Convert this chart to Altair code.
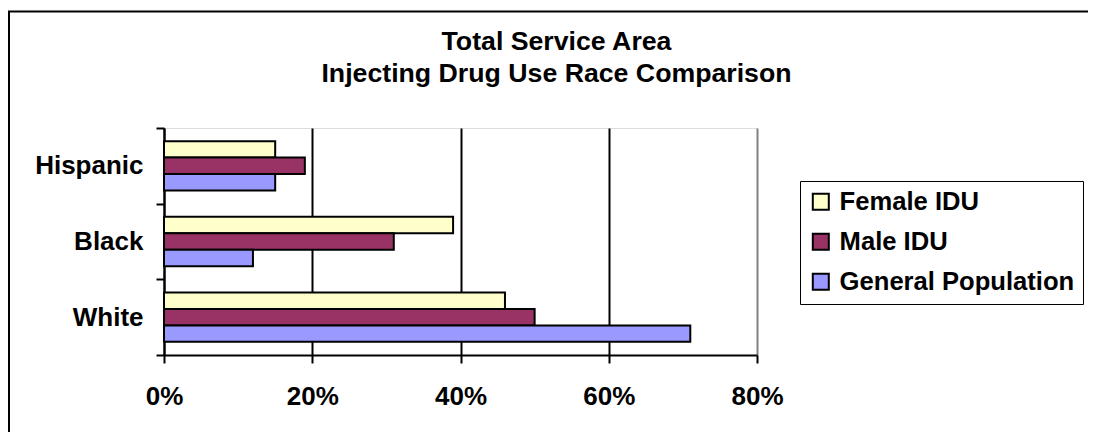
import altair as alt
import pandas as pd

races = ["Hispanic", "Black", "White"]
series = ["Female IDU", "Male IDU", "General Population"]
female_idu = [15, 39, 46]
male_idu = [19, 31, 50]
general_pop = [15, 12, 71]
colors = ["#FFFFCC", "#993366", "#9999FF"]
x_ticks = [0, 20, 40, 60, 80]
title_lines = ["Total Service Area", "Injecting Drug Use Race Comparison"]

rows = []
for i, r in enumerate(races):
    for s, vals in zip(series, [female_idu, male_idu, general_pop]):
        rows.append({"race": r, "series": s, "pct": vals[i] / 100})
df = pd.DataFrame(rows)

FONT = "Liberation Sans"

bars = alt.Chart(df).mark_bar(stroke="black", strokeWidth=2, opacity=1).encode(
    x=alt.X(
        "pct:Q",
        scale=alt.Scale(domain=[0, 0.8], nice=False, zero=True),
        axis=alt.Axis(
            values=[v / 100 for v in x_ticks], format=".0%", title=None,
            grid=True,
            gridColor={"condition": {"test": "datum.value >= 0.79", "value": "#808080"}, "value": "black"},
            gridWidth=2, domainColor="black", domainWidth=2,
            tickColor="black", tickWidth=2, tickSize=8,
            labelFont=FONT, labelFontSize=26, labelFontWeight="bold", labelColor="black",
            labelPadding=20, labelBaseline="top", labelFlush=False, labelOverlap=False,
        ),
    ),
    y=alt.Y(
        "race:N", sort=races,
        scale=alt.Scale(paddingInner=0, paddingOuter=0),
        axis=alt.Axis(
            title=None, tickBand="extent", domainColor="black", domainWidth=2,
            tickColor="black", tickWidth=2, tickSize=8,
            labelFont=FONT, labelFontSize=26, labelFontWeight="bold", labelColor="black",
            labelPadding=13, labelLimit=300,
        ),
    ),
    yOffset=alt.YOffset("series:N", sort=series, scale=alt.Scale(paddingInner=0, paddingOuter=0.8)),
    color=alt.Color(
        "series:N", sort=series,
        scale=alt.Scale(domain=series, range=colors),
        legend=alt.Legend(
            title=None, orient="none", legendX=636, legendY=53, direction="vertical",
            symbolType="square", symbolSize=256, symbolStrokeColor="black", symbolStrokeWidth=2,
            symbolOpacity=1, labelFont=FONT, labelFontSize=25.6, labelFontWeight="bold",
            labelColor="black", labelOffset=6, rowPadding=13, padding=8,
            strokeColor="black", fillColor="white", labelLimit=400,
        ),
    ),
)

border_data = alt.Data(values=[{}])
border_left = alt.Chart(border_data).mark_rule(color="black", strokeWidth=2).encode(
    x=alt.value(-155), y=alt.value(-117), y2=alt.value(320)
)
border_top = alt.Chart(border_data).mark_rule(color="black", strokeWidth=2).encode(
    x=alt.value(-156), x2=alt.value(950), y=alt.value(-116.5)
)

chart = alt.layer(bars, border_left, border_top).properties(
    width=593,
    height=227,
    padding={"left": 156, "top": 120, "right": 331, "bottom": 77},
    autosize=alt.AutoSizeParams(type="none"),
    title=alt.TitleParams(
        text=title_lines, font=FONT, fontSize=26.7, fontWeight="bold", color="black",
        anchor="middle", frame="group", dx=96, offset=-105, lineHeight=32, baseline="bottom",
    ),
).configure_view(fill="#C0C0C0", stroke="#808080", strokeWidth=2).configure_legend(
    strokeWidth=2
).configure(background="white")

chart.save("out.html", embed_options={"renderer": "svg", "actions": False})
